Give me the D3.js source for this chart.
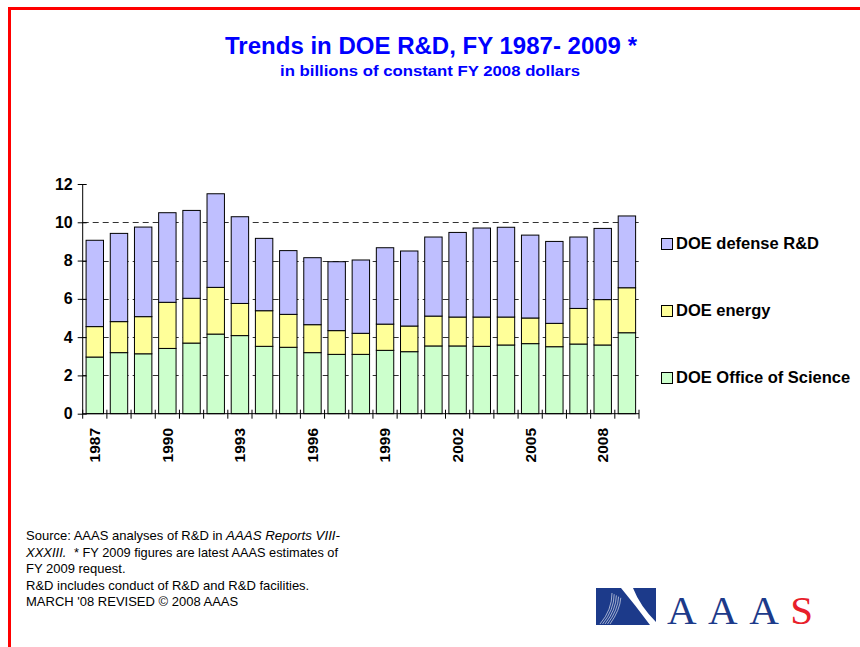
<!DOCTYPE html>
<html><head><meta charset="utf-8">
<script src="https://cdn.jsdelivr.net/npm/d3@7"></script>
<style>body{margin:0;background:#fff;} svg{display:block;font-family:Arial,"Liberation Sans",sans-serif;}</style>
</head><body>
<script>
const years = d3.range(1987, 2010).map(String);
const science = [2.96,3.19,3.13,3.41,3.69,4.16,4.08,3.52,3.47,3.19,3.10,3.10,3.31,3.24,3.54,3.54,3.52,3.59,3.66,3.50,3.64,3.59,4.23];
const energy  = [1.59,1.62,1.94,2.41,2.34,2.44,1.68,1.86,1.72,1.46,1.24,1.10,1.37,1.34,1.56,1.51,1.53,1.46,1.34,1.22,1.86,2.37,2.35];
const defense = [4.51,4.61,4.68,4.68,4.59,4.89,4.53,3.78,3.33,3.50,3.60,3.83,3.99,3.92,4.13,4.42,4.65,4.69,4.33,4.28,3.73,3.72,3.75];
const seriesNames = ["DOE Office of Science","DOE energy","DOE defense R&D"];
const seriesColors = ["#CCFFCC","#FFFF99","#BFBFFF"];
const yTicks = [0,2,4,6,8,10,12];
const xLabelYears = ["1987","1990","1993","1996","1999","2002","2005","2008"];

const W = 860, H = 647;
const svg = d3.select("body").append("svg").attr("width", W).attr("height", H);

// border
svg.append("rect").attr("x",9.5).attr("y",8.5).attr("width",900).attr("height",700)
  .attr("fill","none").attr("stroke","#FF0000").attr("stroke-width",3);

// titles
svg.append("text").attr("x",431).attr("y",54).attr("text-anchor","middle")
  .attr("font-size",23).attr("font-weight","bold").attr("fill","#0000FF")
  .attr("textLength",412).attr("lengthAdjust","spacingAndGlyphs")
  .text("Trends in DOE R&D, FY 1987- 2009 *");
svg.append("text").attr("x",430).attr("y",76).attr("text-anchor","middle")
  .attr("font-size",15.5).attr("font-weight","bold").attr("fill","#0000FF")
  .attr("textLength",300).attr("lengthAdjust","spacingAndGlyphs")
  .text("in billions of constant FY 2008 dollars");

const x = d3.scaleBand().domain(years).range([82.7, 639]).paddingInner(0.28).paddingOuter(0.14);
const y = d3.scaleLinear().domain([0,12]).range([413.7, 184]);

// gridlines
svg.append("g").selectAll("line").data(yTicks.filter(v => v > 0 && v < 12)).join("line")
  .attr("x1",82.7).attr("x2",639).attr("y1",d=>Math.round(y(d))+0.5).attr("y2",d=>Math.round(y(d))+0.5)
  .attr("stroke","#333").attr("stroke-width",1).attr("stroke-dasharray","6,4");

const stackData = years.map((yr,i)=>({year:yr, s0:science[i], s1:energy[i], s2:defense[i]}));
const stack = d3.stack().keys(["s0","s1","s2"])(stackData);

svg.append("g").selectAll("g").data(stack).join("g")
  .attr("fill",(d,i)=>seriesColors[i])
  .selectAll("rect").data(d=>d).join("rect")
  .attr("x",d=>x(d.data.year)).attr("width",x.bandwidth())
  .attr("y",d=>y(d[1])).attr("height",d=>y(d[0])-y(d[1]))
  .attr("stroke","#000").attr("stroke-width",1);

// y axis
const yAxis = svg.append("g").attr("transform","translate(82.7,0)")
  .call(d3.axisLeft(y).tickValues(yTicks).tickSize(4).tickPadding(6));
yAxis.selectAll(".tick line").attr("x2",4).attr("x1",-5).attr("stroke","#000");
yAxis.select(".domain").attr("d","M0,184V413.7").attr("stroke","#000");
yAxis.selectAll("text").attr("font-size",16).attr("font-weight","bold").attr("fill","#000")
  .attr("font-family","Arial,'Liberation Sans',sans-serif").attr("x",-10);

// x axis
const xg = svg.append("g");
xg.append("line").attr("x1",82.7).attr("x2",639).attr("y1",413.7).attr("y2",413.7).attr("stroke","#000");
const bounds = d3.range(years.length+1).map(i => 82.7 + i*(639-82.7)/years.length);
xg.selectAll("line.tk").data(bounds).join("line").attr("class","tk")
  .attr("x1",d=>d).attr("x2",d=>d).attr("y1",409.7).attr("y2",418.7).attr("stroke","#000");
xg.selectAll("text").data(xLabelYears).join("text")
  .attr("transform",d=>`translate(${x(d)+x.bandwidth()/2},428) rotate(-90)`)
  .attr("text-anchor","end").attr("dy","0.35em")
  .attr("font-size",15.5).attr("font-weight","bold").attr("fill","#000").text(d=>d);

// legend
const legendOrder = [2,1,0];
const legendBase = [249,316,383];
const lg = svg.append("g");
legendOrder.forEach((si,k)=>{
  lg.append("rect").attr("x",661.5).attr("y",legendBase[k]-10.5).attr("width",11).attr("height",11)
    .attr("fill",seriesColors[si]).attr("stroke","#000").attr("stroke-width",1);
  lg.append("text").attr("x",676).attr("y",legendBase[k]).attr("font-size",16.5).attr("font-weight","bold")
    .attr("fill","#000").text(seriesNames[si]);
});

// footnote
const fg = svg.append("g").attr("font-size",13).attr("fill","#000");
const segs = [
  ["Source: AAAS analyses of R&D in", false, 26, 540, 0],
  ["AAAS Reports VIII-", true, 226, 540, 114],
  ["XXXIII.", true, 26, 556.5, 0],
  ["* FY 2009 figures are latest AAAS estimates of", false, 74, 556.5, 264],
  ["FY 2009 request.", false, 26, 573, 0],
  ["R&D includes conduct of R&D and R&D facilities.", false, 26, 589.5, 0],
  ["MARCH '08 REVISED © 2008 AAAS", false, 26, 606, 0]
];
segs.forEach(s=>{
  const t = fg.append("text").attr("x",s[2]).attr("y",s[3]).attr("font-style",s[1]?"italic":"normal").text(s[0]);
  if(s[4]) t.attr("textLength",s[4]).attr("lengthAdjust","spacingAndGlyphs");
});

// logo
const logo = svg.append("g");
logo.append("rect").attr("x",596).attr("y",588).attr("width",60).attr("height",37).attr("fill","#1C3A8A");
logo.append("path").attr("d","M621,588 L633,588 Q640,606 656,622 L656,625 L650,625 Q636,606 621,588 Z").attr("fill","#fff");
[0,1,2,3,4].forEach(i=>{
  logo.append("path").attr("d",`M${612+i*2.2},${593+i*1.2} Q${612+i*2},${610} ${600+i*2.5},${624}`)
    .attr("fill","none").attr("stroke","#fff").attr("stroke-width",0.7).attr("opacity",0.85);
});
const lt = logo.append("text").attr("x",667).attr("y",624).attr("font-family","'Liberation Serif','Times New Roman',serif")
  .attr("font-size",41).attr("textLength",146).attr("lengthAdjust","spacing");
lt.append("tspan").attr("fill","#1C3A8A").text("AAA");
lt.append("tspan").attr("fill","#E8202A").text("S");
</script>
</body></html>
